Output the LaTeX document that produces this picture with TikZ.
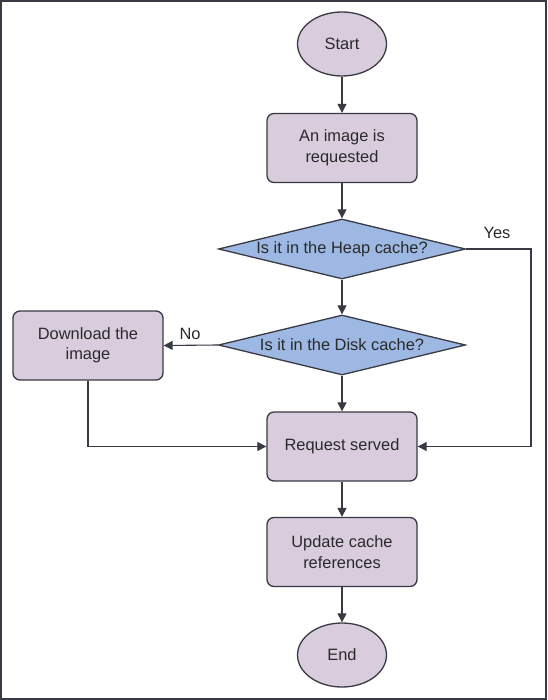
\documentclass[tikz,border=0pt]{standalone}
\usepackage{fontspec}
\setmainfont{Liberation Sans}
\usetikzlibrary{shapes.geometric,arrows.meta}
\definecolor{boxfill}{HTML}{D8CCDD}
\definecolor{dmdfill}{HTML}{9DB8E2}
\definecolor{strk}{HTML}{3A3A44}
\definecolor{txt}{HTML}{2A2A2A}
\tikzset{
  every node/.style={font=\fontsize{16.4}{20.5}\selectfont, text=txt},
  procbox/.style={draw=strk, line width=1.3pt, fill=boxfill, rounded corners=7pt,
    minimum width=150pt, minimum height=69pt, align=center, inner sep=0pt},
  term/.style={draw=strk, line width=1.3pt, fill=boxfill, ellipse,
    minimum width=89pt, minimum height=64pt, inner sep=0pt},
  decide/.style={draw=strk, line width=1.3pt, fill=dmdfill, diamond, aspect=4.1,
    minimum width=247pt, minimum height=60pt, inner sep=0pt},
  conn/.style={draw=strk, line width=1.1pt, -{Triangle[length=9pt,width=9pt]}},
  plain/.style={draw=strk, line width=1.1pt}
}
\begin{document}
\begin{tikzpicture}[x=1pt,y=-1pt]
\useasboundingbox (0,0) rectangle (547,700);
\draw[strk, line width=2pt] (1,1) rectangle (546,699);

\node[term] (start) at (342,44) {Start};
\node[procbox] (req) at (342,148) {An image is\\requested};
\node[decide] (heap) at (342,249) {Is it in the Heap cache?};
\node[decide] (disk) at (342,345) {Is it in the Disk cache?};
\node[procbox] (down) at (88,345.5) {Download the\\image};
\node[procbox] (served) at (342,446.5) {Request served};
\node[procbox] (update) at (342,552) {Update cache\\references};
\node[term] (end) at (342,655) {End};

\coordinate (yesc) at (531,249);
\coordinate (yesd) at (531,446.5);
\coordinate (downc) at (88,446.5);

\draw[conn] (start) -- (req);
\draw[conn] (req) -- (heap);
\draw[conn] (heap) -- (disk);
\draw[conn] (disk) -- (served);
\draw[conn] (served) -- (update);
\draw[conn] (update) -- (end);
\draw[conn] (disk.west) -- (down.east);
\draw[conn] (heap.east) -- (yesc) -- (yesd) -- (served.east);
\draw[conn] (down.south) -- (downc) -- (served.west);

\node[anchor=center] (yes) at (497,233) {Yes};
\node[anchor=center] (no) at (190,334) {No};
\end{tikzpicture}
\end{document}
